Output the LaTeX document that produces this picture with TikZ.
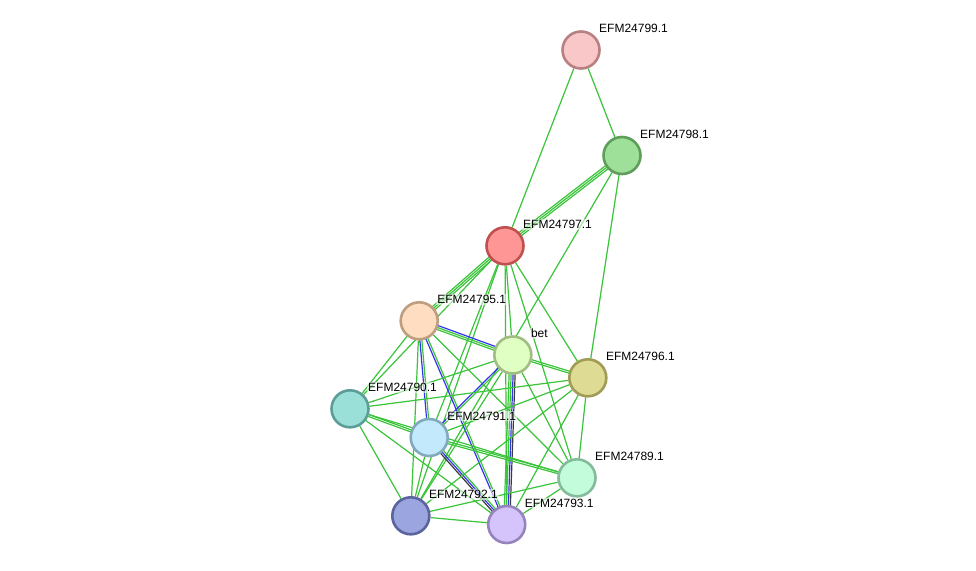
\documentclass[tikz,border=0pt]{standalone}
\usepackage{fontspec}
\setmainfont{Liberation Sans}
\usetikzlibrary{calc}
\pgfdeclarelayer{paper}
\pgfdeclarelayer{edges}
\pgfsetlayers{paper,edges,main}
\definecolor{eg}{RGB}{58,196,58}
\definecolor{eb}{RGB}{52,52,240}
\definecolor{ek}{RGB}{60,60,60}
\newcommand{\pedge}[4]{\draw[edge,#4] ($(#1)!#3!90:(#2)$) -- ($(#2)!#3!-90:(#1)$);}
\tikzset{
  prot/.style={circle,draw,line width=2.6pt,minimum size=37pt,inner sep=0pt},
  lab/.style={anchor=west,inner sep=1pt,font=\fontsize{12}{14}\selectfont,fill=white,fill opacity=0.55,text opacity=1},
  edge/.style={line width=1.2pt},
}
\begin{document}
\begin{tikzpicture}[x=1pt,y=-1pt]
\useasboundingbox (0,0) rectangle (976,570);
\begin{pgfonlayer}{paper}
\fill[white] (0,0) rectangle (976,570);
\end{pgfonlayer}
\node[prot,fill={rgb,255:red,249;green,199;blue,199},draw={rgb,255:red,184;green,128;blue,128}] (n799) at (581,50) {};
\node[prot,fill={rgb,255:red,158;green,224;blue,154},draw={rgb,255:red,94;green,158;blue,90}] (n798) at (622,155.5) {};
\node[prot,fill={rgb,255:red,254;green,150;blue,150},draw={rgb,255:red,192;green,80;blue,80}] (n797) at (505,245.8) {};
\node[prot,fill={rgb,255:red,255;green,221;blue,193},draw={rgb,255:red,189;green,158;blue,127}] (n795) at (419.2,320.8) {};
\node[prot,fill={rgb,255:red,224;green,255;blue,194},draw={rgb,255:red,160;green,190;blue,130}] (bet) at (512.8,355) {};
\node[prot,fill={rgb,255:red,222;green,219;blue,149},draw={rgb,255:red,160;green,155;blue,85}] (n796) at (587.8,377.8) {};
\node[prot,fill={rgb,255:red,155;green,224;blue,216},draw={rgb,255:red,92;green,158;blue,151}] (n790) at (350,408.8) {};
\node[prot,fill={rgb,255:red,194;green,233;blue,252},draw={rgb,255:red,130;green,169;blue,188}] (n791) at (429.2,437.5) {};
\node[prot,fill={rgb,255:red,195;green,252;blue,219},draw={rgb,255:red,131;green,188;blue,155}] (n789) at (577,477.8) {};
\node[prot,fill={rgb,255:red,155;green,166;blue,224},draw={rgb,255:red,92;green,100;blue,158}] (n792) at (410.8,515.8) {};
\node[prot,fill={rgb,255:red,213;green,196;blue,252},draw={rgb,255:red,149;green,131;blue,188}] (n793) at (506.7,524.5) {};
\begin{pgfonlayer}{edges}
\draw[edge,eg] (n799) -- (n797);
\draw[edge,eg] (n799) -- (n798);
\pedge{n798}{n797}{-2pt}{eg}\pedge{n798}{n797}{0pt}{eg}\pedge{n798}{n797}{2pt}{eg}
\draw[edge,eg] (n798) -- (n792);
\draw[edge,eg] (n798) -- (n796);
\pedge{n797}{n795}{-2pt}{eg}\pedge{n797}{n795}{0pt}{eg}\pedge{n797}{n795}{2pt}{eg}
\foreach \t in {n790,bet,n796,n789,n791,n792,n793} {\draw[edge,eg] (n797) -- (\t);}
\pedge{n795}{bet}{-2pt}{eg}\pedge{n795}{bet}{0pt}{eg}\pedge{n795}{bet}{2pt}{eb}
\pedge{n795}{n791}{-1pt}{eb}\pedge{n795}{n791}{1pt}{eg}
\pedge{n795}{n793}{-1pt}{eb}\pedge{n795}{n793}{1pt}{eg}
\foreach \t in {n790,n792,n789} {\draw[edge,eg] (n795) -- (\t);}
\pedge{bet}{n796}{-1pt}{eg}\pedge{bet}{n796}{1pt}{eg}
\pedge{bet}{n791}{-1pt}{eb}\pedge{bet}{n791}{1pt}{eg}
\pedge{bet}{n793}{-3pt}{eg}\pedge{bet}{n793}{-1pt}{eg}\pedge{bet}{n793}{1pt}{eb}\pedge{bet}{n793}{3pt}{ek}
\foreach \t in {n790,n792,n789} {\draw[edge,eg] (bet) -- (\t);}
\pedge{n790}{n791}{-1pt}{eg}\pedge{n790}{n791}{1pt}{eg}
\foreach \t in {n796,n789,n792,n793} {\draw[edge,eg] (n790) -- (\t);}
\pedge{n791}{n789}{-1pt}{eg}\pedge{n791}{n789}{1pt}{eg}
\pedge{n791}{n793}{-2pt}{ek}\pedge{n791}{n793}{0pt}{eb}\pedge{n791}{n793}{2pt}{eg}
\foreach \t in {n796,n792} {\draw[edge,eg] (n791) -- (\t);}
\foreach \t in {n792,n793,n789} {\draw[edge,eg] (n796) -- (\t);}
\foreach \t in {n792,n793} {\draw[edge,eg] (n789) -- (\t);}
\draw[edge,eg] (n792) -- (n793);
\end{pgfonlayer}
\foreach \n/\t in {n799/EFM24799.1,n798/EFM24798.1,n797/EFM24797.1,n795/EFM24795.1,bet/bet,n796/EFM24796.1,n790/EFM24790.1,n791/EFM24791.1,n789/EFM24789.1,n792/EFM24792.1,n793/EFM24793.1}
  {\node[lab] (l\n) at ($(\n)+(17,-21.5)$) {\t};}
\end{tikzpicture}
\end{document}
